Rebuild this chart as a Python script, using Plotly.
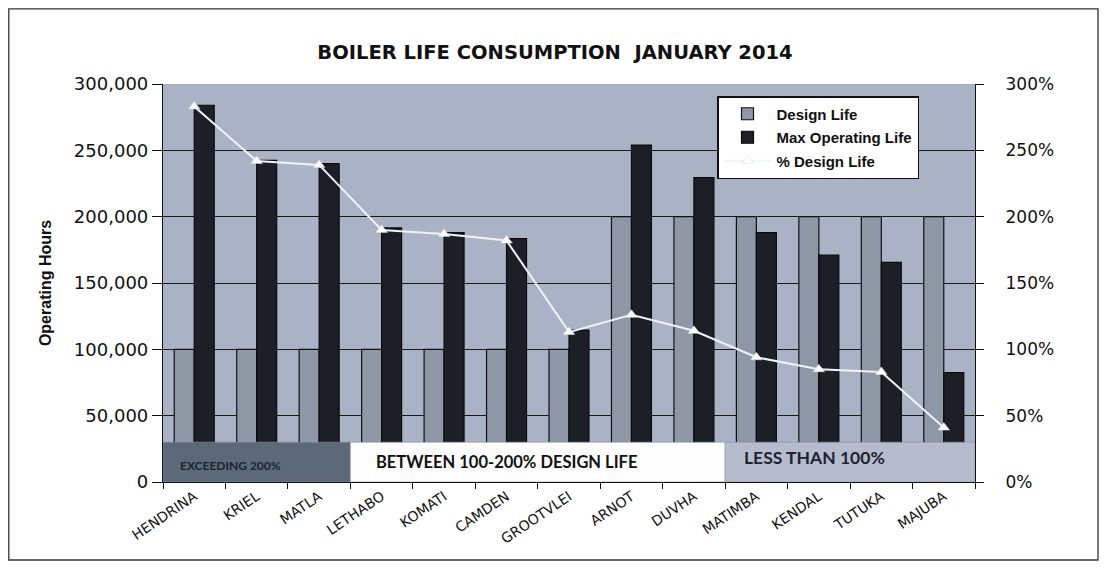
import plotly.graph_objects as go

# ---------------- data ----------------
stations = ["HENDRINA", "KRIEL", "MATLA", "LETHABO", "KOMATI", "CAMDEN", "GROOTVLEI",
            "ARNOT", "DUVHA", "MATIMBA", "KENDAL", "TUTUKA", "MAJUBA"]
design_life = [100000, 100000, 100000, 100000, 100000, 100000, 100000,
               200000, 200000, 200000, 200000, 200000, 200000]
max_operating_life = [284000, 242500, 240000, 191500, 188000, 183500, 114500,
                      254000, 229500, 188000, 171000, 165500, 82500]
pct_design_life = [2.83, 2.42, 2.39, 1.90, 1.87, 1.82, 1.13,
                   1.26, 1.14, 0.94, 0.85, 0.83, 0.41]

band_labels = ["EXCEEDING 200%", "BETWEEN 100-200% DESIGN LIFE", "LESS THAN 100%"]
band_first = ["HENDRINA", "LETHABO", "MATIMBA"]
band_last = ["MATLA", "DUVHA", "MAJUBA"]

# ---------------- styling ----------------
band_fill = ["#5d6878", "#fdfdfd", "#b6bccd"]
band_text_color = ["#1c2430", "#111111", "#1c2430"]
band_text_size = [12, 16.5, 17.5]
band_text_shift = [15, 24, 17]
band_text_ypos = [0.42, 0.5, 0.62]
band_height = 30000

# page body adds an 8px offset; figure sized to fit the window exactly
W, H = 1098, 569
L, R, T, B = 155, 131, 76, 95
PW, PH = W - L - R, H - T - B

fig = go.Figure()
fig.add_trace(go.Bar(
    name="Design Life", x=stations, y=design_life, legendgroup="a",
    marker=dict(color="#8d97a6", line=dict(color="#111111", width=1.2)),
    yaxis="y"))
fig.add_trace(go.Bar(
    name="Max Operating Life", x=stations, y=max_operating_life, legendgroup="b",
    marker=dict(color="#1c1f26", line=dict(color="#0a0a0a", width=1.2)),
    yaxis="y"))
fig.add_trace(go.Scatter(
    name="% Design Life", x=stations, y=pct_design_life, yaxis="y2", legendgroup="c",
    mode="lines+markers",
    line=dict(color="#eef3fc", width=2),
    marker=dict(symbol="triangle-up", size=10, color="#ffffff",
                line=dict(color="#d6dde8", width=0.5))))

shapes = []
annotations = []
for lab, f, l, fill, tc, ts, xs, yp in zip(band_labels, band_first, band_last, band_fill,
                                           band_text_color, band_text_size,
                                           band_text_shift, band_text_ypos):
    x0 = stations.index(f) - 0.5
    x1 = stations.index(l) + 0.5
    shapes.append(dict(type="rect", xref="x", yref="y", x0=x0, x1=x1,
                       y0=0, y1=band_height, fillcolor=fill,
                       line=dict(color="#8a93a3", width=0.6), layer="above"))
    annotations.append(dict(xref="x", yref="y", x=x0, y=band_height * yp,
                            xanchor="left", yanchor="middle", xshift=xs,
                            text=lab, showarrow=False,
                            font=dict(family="Lato", size=ts, color=tc, weight="bold")))

# outer chart frame
shapes.append(dict(type="rect", xref="paper", yref="paper",
                   x0=(0.8 - L) / PW, x1=(1090 - L) / PW,
                   y0=(H - B - 552) / PH, y1=(H - B - 0.8) / PH,
                   line=dict(color="#333333", width=1.3), layer="below"))

fig.update_layout(
    width=W, height=H,
    margin=dict(l=L, r=R, t=T, b=B, autoexpand=False),
    paper_bgcolor="#ffffff",
    plot_bgcolor="#aab2c5",
    barmode="group", bargap=0.36, bargroupgap=0.0,
    title=dict(text="BOILER LIFE CONSUMPTION\u00a0 JANUARY 2014",
               x=547 / W, xref="container", xanchor="center",
               y=1 - 44 / H, yref="container", yanchor="middle",
               font=dict(family="DejaVu Sans", size=19.5, color="#111111", weight="bold")),
    font=dict(family="DejaVu Sans", color="#111111"),
    xaxis=dict(type="category", range=[-0.5, len(stations) - 0.5],
               tickson="boundaries", ticks="outside", ticklen=6,
               tickcolor="#111111", showline=True, linecolor="#111111", linewidth=1.2,
               tickangle=-34, tickfont=dict(family="DejaVu Sans", size=14, color="#111111"),
               showgrid=False, automargin=False),
    yaxis=dict(range=[0, 300000], dtick=50000, tickformat=",", ticks="outside",
               ticklen=10, tickcolor="#111111", showline=True, linecolor="#111111",
               linewidth=1.2, showgrid=True, gridcolor="#1a1a1a", gridwidth=1,
               zeroline=False, tickfont=dict(family="DejaVu Sans", size=18, color="#111111"),
               title=dict(text="Operating Hours", standoff=18,
                          font=dict(family="Liberation Sans", size=16, color="#111111",
                                    weight="bold")),
               automargin=False),
    yaxis2=dict(range=[0, 3], dtick=0.5, tickformat=".0%", overlaying="y", side="right",
                ticks="outside", ticklen=8, tickcolor="#111111", showline=True,
                linecolor="#111111", linewidth=1.2, showgrid=False, zeroline=False,
                ticklabelstandoff=18,
                tickfont=dict(family="DejaVu Sans", size=17, color="#111111"),
                automargin=False),
    legend=dict(x=(717 - 163) / PW, y=(482 - 96) / PH,
                xanchor="left", yanchor="top", bgcolor="#ffffff",
                bordercolor="#111111", borderwidth=1.5, itemwidth=48,
                font=dict(family="Liberation Sans", size=15, color="#111111", weight="bold"),
                traceorder="grouped", tracegroupgap=1),
    shapes=shapes,
    annotations=annotations,
)

fig.write_html("out.html")
